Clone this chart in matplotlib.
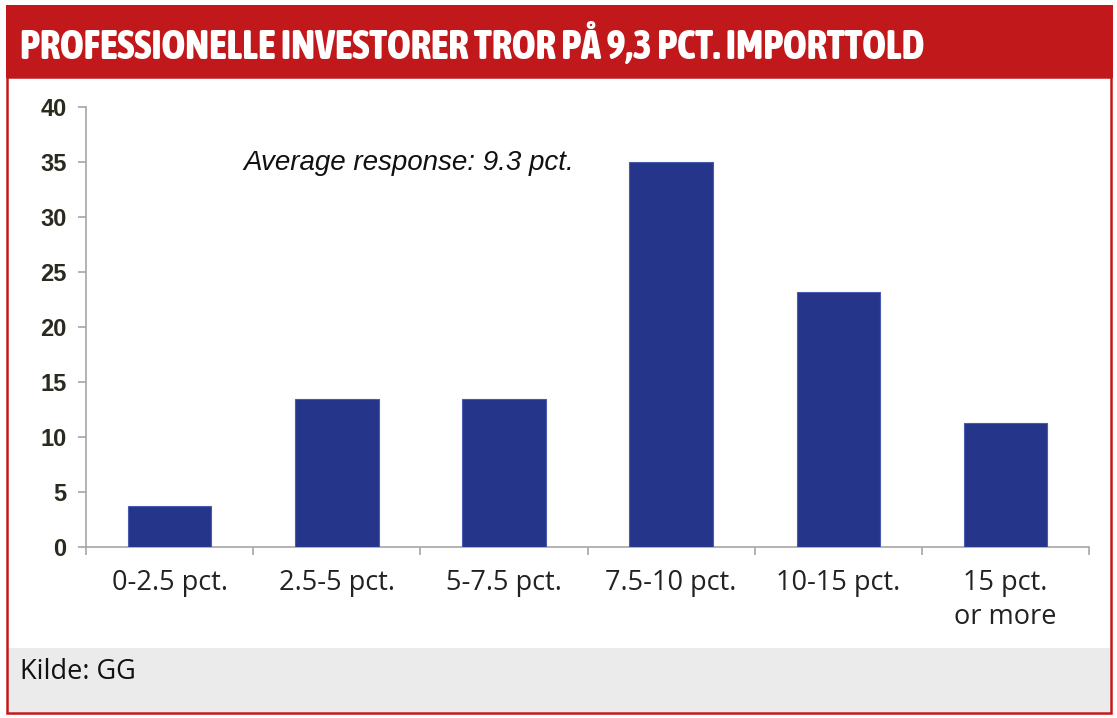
import matplotlib.pyplot as plt
from matplotlib.patches import Rectangle
from matplotlib import font_manager

# data
categories = ["0-2.5 pct.", "2.5-5 pct.", "5-7.5 pct.", "7.5-10 pct.", "10-15 pct.", "15 pct.\nor more"]
values = [3.7, 13.5, 13.5, 35.0, 23.2, 11.3]
yticks = [0, 5, 10, 15, 20, 25, 30, 35, 40]

title = "PROFESSIONELLE INVESTORER TROR PÅ 9,3 PCT. IMPORTTOLD"
note = "Average response: 9.3 pct."
source = "Kilde: GG"

red = "#c1191b"
blue = "#24358a"
grey_axis = "#a6a6a6"

# narrowest bold font we can find for the title
def stretch_val(f):
    s = f.stretch
    if isinstance(s, str):
        s = font_manager.stretch_dict.get(s, 500)
    return s

def weight_val(f):
    w = f.weight
    if isinstance(w, str):
        w = font_manager.weight_dict.get(w, 400)
    return w

fonts = font_manager.fontManager.ttflist
cands = [f for f in fonts if weight_val(f) >= 600 and f.style == "normal"
         and ("Condensed" in f.name or "Narrow" in f.name or stretch_val(f) < 500)]
if cands:
    best = sorted(cands, key=lambda f: (stretch_val(f) if stretch_val(f) < 500 else 450,
                                        -weight_val(f) if weight_val(f) <= 800 else 0))[0]
    title_prop = font_manager.FontProperties(fname=best.fname)
else:
    title_prop = font_manager.FontProperties(family="DejaVu Sans", weight="bold", stretch="condensed")

fig = plt.figure(figsize=(11.17, 7.18), dpi=100)
fig.patch.set_facecolor("white")

# title band, footer, border
fig.patches.append(Rectangle((0.005, 0.891), 0.991, 0.102, transform=fig.transFigure,
                             facecolor=red, edgecolor="none", zorder=0))
fig.patches.append(Rectangle((0.007, 0.008), 0.987, 0.090, transform=fig.transFigure,
                             facecolor="#ebebeb", edgecolor="none", zorder=0))
fig.patches.append(Rectangle((0.006, 0.007), 0.989, 0.886, transform=fig.transFigure,
                             facecolor="none", edgecolor=red, linewidth=1.8, zorder=1))

t = fig.text(0.018, 0.935, title, color="white", fontproperties=title_prop,
             va="center", ha="left")
t.set_fontsize(34)
# shrink title so it fits the width it has in the original
r = fig.canvas.get_renderer()
w = t.get_window_extent(r).width
if w > 905:
    t.set_fontsize(34 * 905 / w)

fig.text(0.018, 0.064, source, color="#111111", fontsize=19.5,
         family=["Open Sans", "DejaVu Sans"], va="center", ha="left")

ax = fig.add_axes([0.077, 0.238, 0.898, 0.613])
x = list(range(len(categories)))
ax.bar(x, values, width=0.5, color=blue, edgecolor="#4a5ab0", linewidth=0.8, zorder=3)

ax.set_xlim(-0.5, len(categories) - 0.5)
ax.set_ylim(0, 40)
ax.set_yticks(yticks)
ax.set_yticklabels([str(t) for t in yticks], fontsize=17, color="#2a2a1e", fontweight="bold",
                   family=["Liberation Sans", "DejaVu Sans"])

# category labels in the middle, ticks between the bars
ax.set_xticks([i - 0.5 for i in range(len(categories) + 1)])
ax.set_xticklabels([])
ax.set_xticks(x, minor=True)
ax.set_xticklabels(categories, minor=True, fontsize=19.5, color="#222222",
                   family=["Open Sans", "DejaVu Sans"], linespacing=1.25)
ax.tick_params(axis="x", which="minor", length=0, pad=16)
ax.tick_params(axis="x", which="major", length=6, color=grey_axis, width=1.2)
ax.tick_params(axis="y", length=6, color=grey_axis, width=1.2, pad=8)

for s in ["top", "right"]:
    ax.spines[s].set_visible(False)
for s in ["left", "bottom"]:
    ax.spines[s].set_color(grey_axis)
    ax.spines[s].set_linewidth(1.2)

ax.text(0.157, 0.873, note, transform=ax.transAxes, fontsize=20, style="italic",
        color="#111111", family=["Liberation Sans", "DejaVu Sans"], va="center", ha="left")

fig.savefig("out.png", dpi=100)
